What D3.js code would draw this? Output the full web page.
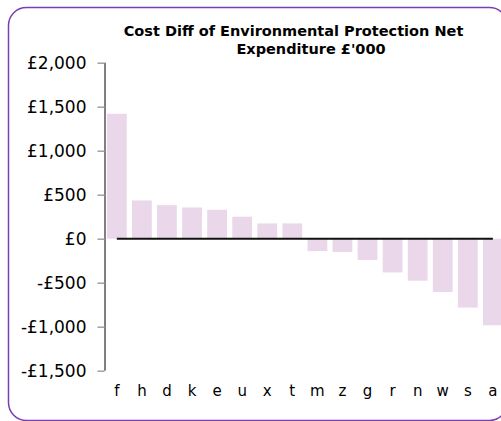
<!DOCTYPE html>
<html>
<head>
<meta charset="utf-8">
<script src="https://cdn.jsdelivr.net/npm/d3@7"></script>
<style>
  body { margin: 0; background: #fff; }
  svg { display: block; }
</style>
</head>
<body>
<div id="chart"></div>
<script>
var categories = ["f", "h", "d", "k", "e", "u", "x", "t", "m", "z", "g", "r", "n", "w", "s", "a"];
var costDiff = [1420, 435, 381, 355, 329, 250, 174, 174, -141, -152, -243, -383, -477, -606, -783, -984];
var yTicks = [-1500, -1000, -500, 0, 500, 1000, 1500, 2000];
var titleLines = ["Cost Diff of Environmental Protection Net", "Expenditure £'000"];

var width = 501, height = 421;

var svg = d3.select('#chart')
    .append('svg')
    .attr('width', width)
    .attr('height', height);

// outer frame (chart is cropped on the right)
svg.append('rect')
    .attr('x', 8.5)
    .attr('y', 7.5)
    .attr('width', 499)
    .attr('height', 413)
    .attr('rx', 18)
    .attr('ry', 18)
    .attr('fill', 'none')
    .attr('stroke', '#7A3FB0')
    .attr('stroke-width', 1.5);

var x = d3.scaleBand()
    .domain(categories)
    .range([104.3, 505.4])
    .paddingInner(0.21)
    .paddingOuter(0.105);

var y = d3.scaleLinear()
    .domain([-1500, 2000])
    .range([370.7, 62.7]);

// bars
svg.selectAll('rect.bar')
    .data(categories)
    .enter()
    .append('rect')
    .attr('class', 'bar')
    .attr('x', function(d){ return x(d); })
    .attr('width', x.bandwidth())
    .attr('y', function(d, i){ return y(Math.max(0, costDiff[i])); })
    .attr('height', function(d, i){ return Math.abs(y(costDiff[i]) - y(0)); })
    .attr('fill', '#EAD8EA');

// y axis
var yAxis = d3.axisLeft(y)
    .tickValues(yTicks)
    .tickSize(7)
    .tickPadding(11)
    .tickFormat(function(d){
        return (d < 0 ? '-' : '') + '£' + d3.format(',')(Math.abs(d));
    });

var gy = svg.append('g')
    .attr('transform', 'translate(104.5,0)')
    .call(yAxis);

gy.select('.domain')
    .attr('stroke', '#000')
    .attr('stroke-width', 1)
    .attr('d', 'M0.5,' + y(2000) + 'V' + y(-1500));
gy.selectAll('.tick line')
    .attr('stroke', '#A0A0A0')
    .attr('stroke-width', 1.5);
gy.selectAll('.tick text')
    .attr('fill', '#000')
    .style('font-family', '"DejaVu Sans", Verdana, sans-serif')
    .style('font-size', '17px');

// zero line (from first to last category centre)
svg.append('line')
    .attr('x1', x(categories[0]) + x.bandwidth() / 2)
    .attr('x2', x(categories[categories.length - 1]) + x.bandwidth() / 2)
    .attr('y1', y(0))
    .attr('y2', y(0))
    .attr('stroke', '#111')
    .attr('stroke-width', 2);

// category labels
svg.selectAll('text.cat')
    .data(categories)
    .enter()
    .append('text')
    .attr('class', 'cat')
    .attr('x', function(d){ return x(d) + x.bandwidth() / 2; })
    .attr('y', 396)
    .attr('text-anchor', 'middle')
    .style('font-family', '"DejaVu Sans", Verdana, sans-serif')
    .style('font-size', '15px')
    .text(function(d){ return d; });

// title
var titleX = [293.5, 311];
svg.selectAll('text.title')
    .data(titleLines)
    .enter()
    .append('text')
    .attr('class', 'title')
    .attr('x', function(d, i){ return titleX[i]; })
    .attr('y', function(d, i){ return 36 + i * 18; })
    .attr('text-anchor', 'middle')
    .style('font-family', '"DejaVu Sans", Verdana, sans-serif')
    .style('font-weight', 'bold')
    .style('font-size', '14.5px')
    .text(function(d){ return d; });
</script>
</body>
</html>
